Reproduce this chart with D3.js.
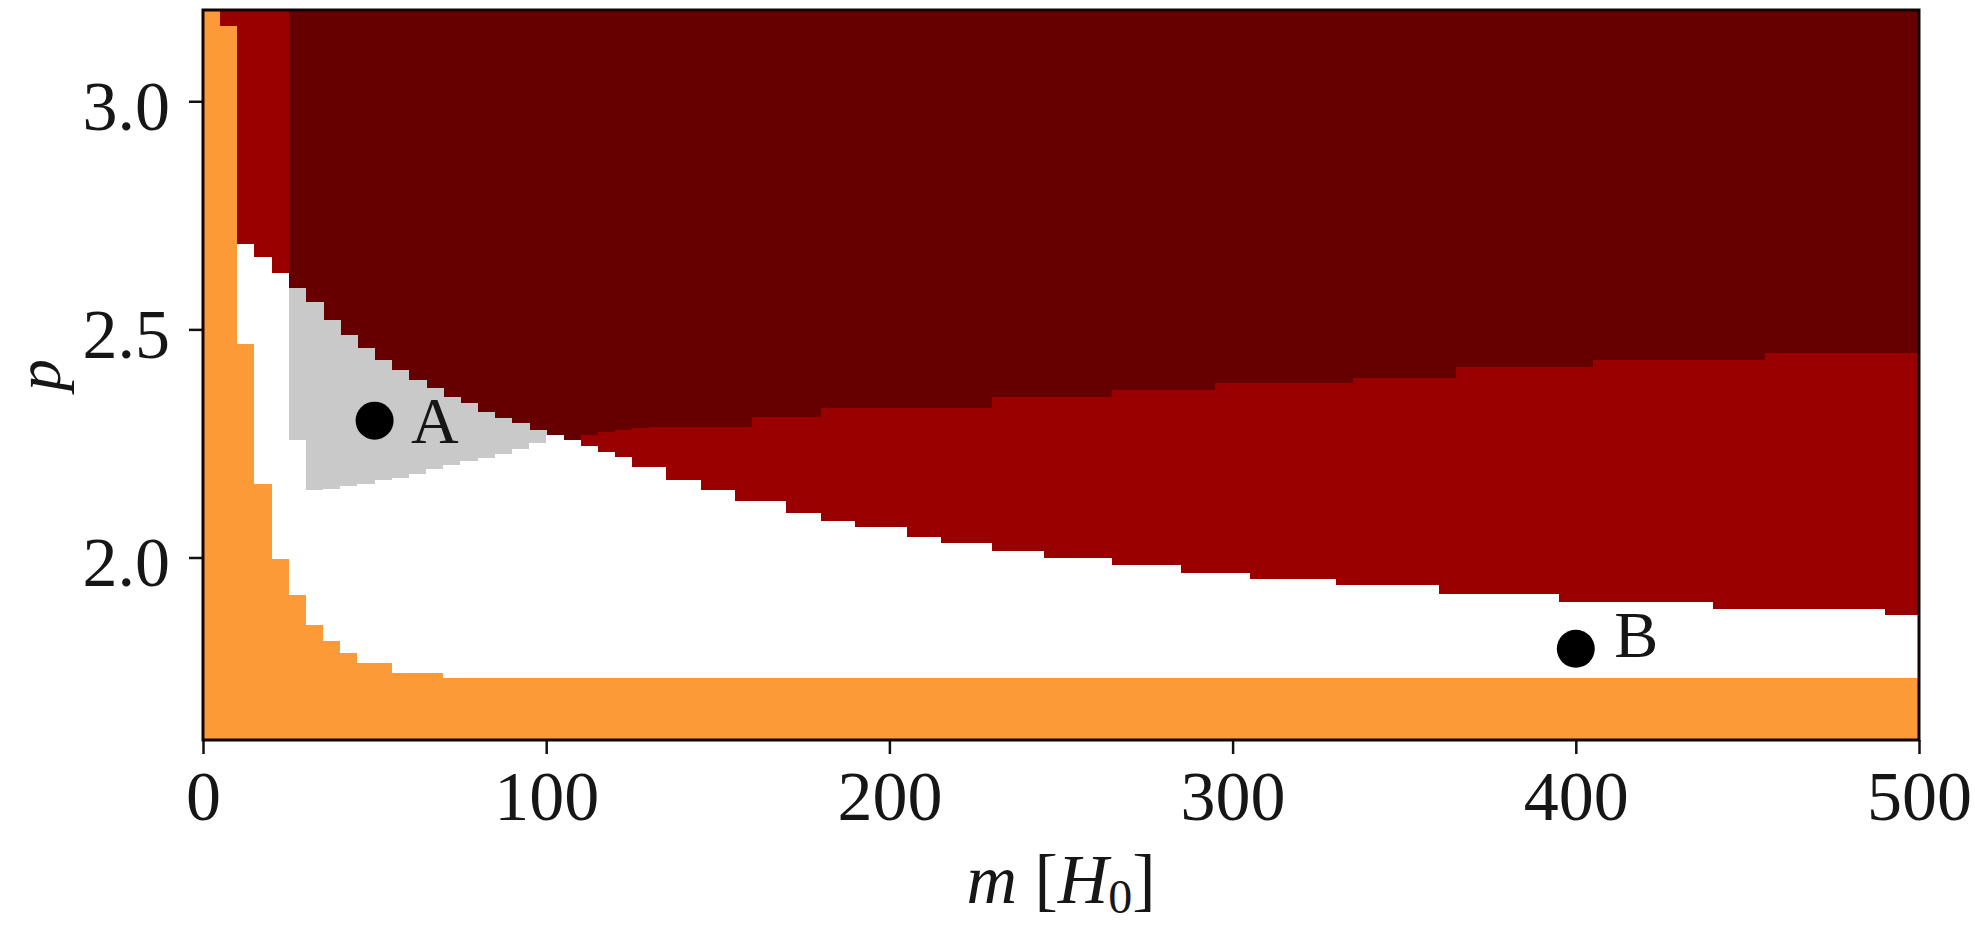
<!DOCTYPE html>
<html>
<head>
<meta charset="utf-8">
<script src="https://cdn.jsdelivr.net/npm/d3@7"></script>
<style>
  html, body { margin: 0; padding: 0; background: #ffffff; }
  svg { display: block; }
  text { font-family: "Liberation Serif", "DejaVu Serif", serif; fill: #161616; }
</style>
</head>
<body>
<svg id="chart" width="1975" height="928"></svg>
<script>
// Phase diagram over mass m [H0] and exponent p.
// Each step list is [mStart, mEnd, p]: the boundary height for the columns in [mStart, mEnd).
const mDomain = [0, 500];
const pDomain = [1.6, 3.2];
const columnWidth = 5;

const xTickValues = [0, 100, 200, 300, 400, 500];
const yTickValues = [2.0, 2.5, 3.0];

// top of the orange regime
const orangeTop = [
  [0, 5, 3.2], [5, 10, 3.167], [10, 15, 2.47], [15, 20, 2.163], [20, 25, 1.997],
  [25, 30, 1.92], [30, 35, 1.854], [35, 40, 1.819], [40, 45, 1.791],
  [45, 55, 1.769], [55, 70, 1.749], [70, 500, 1.738]
];

// top of the white regime
const whiteTop = [
  [10, 15, 2.689], [15, 20, 2.659], [20, 25, 2.624], [25, 30, 2.258],
  [30, 35, 2.148], [35, 40, 2.152], [40, 45, 2.157], [45, 50, 2.163],
  [50, 55, 2.170], [55, 60, 2.176], [60, 65, 2.185], [65, 70, 2.194],
  [70, 75, 2.203], [75, 80, 2.212], [80, 85, 2.220], [85, 90, 2.229],
  [90, 95, 2.240], [95, 100, 2.251], [100, 105, 2.268], [105, 110, 2.258],
  [110, 115, 2.245], [115, 120, 2.232], [120, 125, 2.221], [125, 135, 2.200],
  [135, 145, 2.170], [145, 155, 2.148], [155, 170, 2.126], [170, 180, 2.098],
  [180, 190, 2.082], [190, 205, 2.067], [205, 215, 2.045], [215, 230, 2.032],
  [230, 245, 2.016], [245, 265, 1.999], [265, 285, 1.984], [285, 305, 1.968],
  [305, 330, 1.954], [330, 360, 1.940], [360, 395, 1.921], [395, 440, 1.903],
  [440, 490, 1.889], [490, 500, 1.874]
];

// top of the grey regime (it sits directly on the white one)
const greyTop = [
  [25, 30, 2.590], [30, 35, 2.561], [35, 40, 2.521], [40, 45, 2.488],
  [45, 50, 2.459], [50, 55, 2.433], [55, 60, 2.411], [60, 65, 2.389],
  [65, 70, 2.371], [70, 75, 2.352], [75, 80, 2.338], [80, 85, 2.320],
  [85, 90, 2.305], [90, 95, 2.294], [95, 100, 2.279]
];

// top of the bright red regime above the white one (left strip reaches the top)
const redTop = [
  [5, 10, 3.2], [10, 25, 3.2],
  [110, 115, 2.268], [115, 120, 2.275], [120, 125, 2.280], [125, 130, 2.284],
  [130, 160, 2.287], [160, 180, 2.309], [180, 230, 2.327], [230, 265, 2.352],
  [265, 295, 2.367], [295, 335, 2.382], [335, 365, 2.393], [365, 405, 2.418],
  [405, 455, 2.433], [455, 500, 2.448]
];

// marked parameter points
const markers = [
  { label: "A", m: 50, p: 2.3, textM: 60.6, textP: 2.252 },
  { label: "B", m: 400, p: 1.8, textM: 411.2, textP: 1.781 }
];

const regimeColour = {
  orange: "#fc9a37",
  white: "#ffffff",
  grey: "#c9c9c9",
  red: "#990000",
  dark: "#660000"
};

const svg = d3.select("#chart");
const plot = { left: 203, right: 1919, top: 10, bottom: 740 };

const x = d3.scaleLinear().domain(mDomain).range([plot.left, plot.right]);
const y = d3.scaleLinear().domain(pDomain).range([plot.bottom, plot.top]);

function stepAt(steps, m) {
  const s = steps.find(d => m >= d[0] && m < d[1]);
  return s ? s[2] : null;
}

// assemble the cells of every mass column from the step lists
const cells = [];
for (let m = mDomain[0]; m < mDomain[1]; m += columnWidth) {
  const m1 = m + columnWidth;
  const oTop = stepAt(orangeTop, m);
  cells.push({ m0: m, m1, p0: pDomain[0], p1: oTop, regime: "orange" });
  let base = oTop;
  const wTop = stepAt(whiteTop, m);
  if (wTop !== null) {
    cells.push({ m0: m, m1, p0: base, p1: wTop, regime: "white" });
    base = wTop;
  }
  const gTop = stepAt(greyTop, m);
  if (gTop !== null) {
    cells.push({ m0: m, m1, p0: base, p1: gTop, regime: "grey" });
    base = gTop;
  }
  const rTop = stepAt(redTop, m);
  if (rTop !== null) {
    cells.push({ m0: m, m1, p0: base, p1: rTop, regime: "red" });
  }
}

const clip = svg.append("defs").append("clipPath").attr("id", "plot-clip");
clip.append("rect")
  .attr("x", x(mDomain[0])).attr("y", y(pDomain[1]))
  .attr("width", x(mDomain[1]) - x(mDomain[0]))
  .attr("height", y(pDomain[0]) - y(pDomain[1]));

const field = svg.append("g").attr("clip-path", "url(#plot-clip)")
  .attr("shape-rendering", "crispEdges");

// the dark regime fills whatever the other regimes leave
field.append("rect")
  .attr("x", x(mDomain[0])).attr("y", y(pDomain[1]))
  .attr("width", x(mDomain[1]) - x(mDomain[0]))
  .attr("height", y(pDomain[0]) - y(pDomain[1]))
  .attr("fill", regimeColour.dark);

field.selectAll("rect.cell")
  .data(cells.filter(c => c.p1 > c.p0))
  .join("rect")
  .attr("class", "cell")
  .attr("x", d => x(d.m0))
  .attr("width", d => x(d.m1) - x(d.m0) + 0.5)
  .attr("y", d => y(d.p1))
  .attr("height", d => y(d.p0) - y(d.p1) + 0.5)
  .attr("fill", d => regimeColour[d.regime]);

// markers
const mk = svg.append("g");
mk.selectAll("circle")
  .data(markers)
  .join("circle")
  .attr("cx", d => x(d.m))
  .attr("cy", d => y(d.p))
  .attr("r", 19)
  .attr("fill", "#000");
mk.selectAll("text")
  .data(markers)
  .join("text")
  .attr("x", d => x(d.textM))
  .attr("y", d => y(d.textP))
  .attr("font-size", 66)
  .text(d => d.label);

// axes
const fontSize = 70;
const xAxis = d3.axisBottom(x).tickValues(xTickValues).tickFormat(d3.format("d"))
  .tickSizeInner(14).tickSizeOuter(0).tickPadding(16);
const yAxis = d3.axisLeft(y).tickValues(yTickValues).tickFormat(d3.format(".1f"))
  .tickSizeInner(14).tickSizeOuter(0).tickPadding(19);

const gx = svg.append("g").attr("transform", `translate(0,${plot.bottom})`).call(xAxis);
const gy = svg.append("g").attr("transform", `translate(${plot.left},0)`).call(yAxis);

[gx, gy].forEach(g => {
  g.select(".domain").remove();
  g.selectAll(".tick line").attr("stroke", "#111").attr("stroke-width", 2.5);
  g.selectAll(".tick text")
    .attr("font-family", "Liberation Serif, DejaVu Serif, serif")
    .attr("font-size", fontSize)
    .attr("fill", "#161616");
});
gy.selectAll(".tick text").attr("dy", "0.4em");

// frame
svg.append("rect")
  .attr("x", x(mDomain[0])).attr("y", y(pDomain[1]))
  .attr("width", x(mDomain[1]) - x(mDomain[0]))
  .attr("height", y(pDomain[0]) - y(pDomain[1]))
  .attr("fill", "none")
  .attr("stroke", "#100500")
  .attr("stroke-width", 3);

// axis titles
const xl = svg.append("text")
  .attr("x", (plot.left + plot.right) / 2)
  .attr("y", 903)
  .attr("text-anchor", "middle")
  .attr("font-size", 70);
xl.append("tspan").attr("font-style", "italic").text("m");
xl.append("tspan").text(" [");
xl.append("tspan").attr("font-style", "italic").text("H");
xl.append("tspan").attr("font-size", 48).attr("dy", 10).text("0");
xl.append("tspan").attr("dy", -10).text("]");

svg.append("text")
  .attr("transform", `translate(60,${(plot.top + plot.bottom) / 2}) rotate(-90)`)
  .attr("text-anchor", "middle")
  .attr("font-size", 64)
  .attr("font-style", "italic")
  .text("p");
</script>
</body>
</html>
